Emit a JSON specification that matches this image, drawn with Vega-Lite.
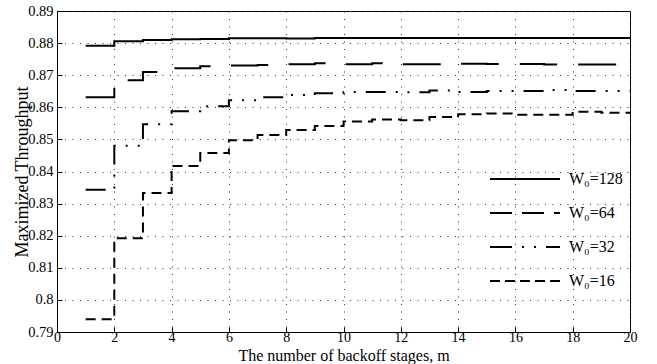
{
  "$schema": "https://vega.github.io/schema/vega-lite/v6.json",
  "autosize": "none",
  "width": 573,
  "height": 321,
  "padding": {"left": 57, "top": 11, "right": 27, "bottom": 32},
  "background": "white",
  "config": {
    "font": "Liberation Serif",
    "view": {"stroke": "black", "strokeWidth": 1},
    "axis": {
      "domainColor": "black",
      "tickColor": "black",
      "labelColor": "black",
      "titleColor": "black",
      "labelFont": "Liberation Serif",
      "titleFont": "Liberation Serif",
      "labelFontSize": 14.5,
      "titleFontSize": 17,
      "titleFontWeight": "normal",
      "gridColor": "#333",
      "gridDash": [1, 6.5],
      "gridWidth": 1,
      "gridOpacity": 1,
      "tickSize": -5
    }
  },
  "data": {
    "values": [
      {"m": 1, "W": "W₀=128", "T": 0.8792}, {"m": 2, "W": "W₀=128", "T": 0.8806}, {"m": 3, "W": "W₀=128", "T": 0.881}, {"m": 4, "W": "W₀=128", "T": 0.8812}, {"m": 5, "W": "W₀=128", "T": 0.8813}, {"m": 6, "W": "W₀=128", "T": 0.8815}, {"m": 7, "W": "W₀=128", "T": 0.8815}, {"m": 8, "W": "W₀=128", "T": 0.8814}, {"m": 9, "W": "W₀=128", "T": 0.8816}, {"m": 10, "W": "W₀=128", "T": 0.8816}, {"m": 11, "W": "W₀=128", "T": 0.8816}, {"m": 12, "W": "W₀=128", "T": 0.8816}, {"m": 13, "W": "W₀=128", "T": 0.8816}, {"m": 14, "W": "W₀=128", "T": 0.8816}, {"m": 15, "W": "W₀=128", "T": 0.8816}, {"m": 16, "W": "W₀=128", "T": 0.8816}, {"m": 17, "W": "W₀=128", "T": 0.8816}, {"m": 18, "W": "W₀=128", "T": 0.8816}, {"m": 19, "W": "W₀=128", "T": 0.8816}, {"m": 20, "W": "W₀=128", "T": 0.8816},
      {"m": 1, "W": "W₀=64", "T": 0.8631}, {"m": 2, "W": "W₀=64", "T": 0.8684}, {"m": 3, "W": "W₀=64", "T": 0.871}, {"m": 4, "W": "W₀=64", "T": 0.8722}, {"m": 5, "W": "W₀=64", "T": 0.8728}, {"m": 6, "W": "W₀=64", "T": 0.873}, {"m": 7, "W": "W₀=64", "T": 0.8732}, {"m": 8, "W": "W₀=64", "T": 0.8734}, {"m": 9, "W": "W₀=64", "T": 0.8737}, {"m": 10, "W": "W₀=64", "T": 0.8734}, {"m": 11, "W": "W₀=64", "T": 0.8737}, {"m": 12, "W": "W₀=64", "T": 0.8734}, {"m": 13, "W": "W₀=64", "T": 0.8734}, {"m": 14, "W": "W₀=64", "T": 0.8736}, {"m": 15, "W": "W₀=64", "T": 0.8735}, {"m": 16, "W": "W₀=64", "T": 0.8735}, {"m": 17, "W": "W₀=64", "T": 0.8733}, {"m": 18, "W": "W₀=64", "T": 0.8733}, {"m": 19, "W": "W₀=64", "T": 0.8733}, {"m": 20, "W": "W₀=64", "T": 0.8733},
      {"m": 1, "W": "W₀=32", "T": 0.8343}, {"m": 2, "W": "W₀=32", "T": 0.848}, {"m": 3, "W": "W₀=32", "T": 0.8547}, {"m": 4, "W": "W₀=32", "T": 0.8588}, {"m": 5, "W": "W₀=32", "T": 0.8603}, {"m": 6, "W": "W₀=32", "T": 0.8622}, {"m": 7, "W": "W₀=32", "T": 0.8631}, {"m": 8, "W": "W₀=32", "T": 0.8638}, {"m": 9, "W": "W₀=32", "T": 0.8644}, {"m": 10, "W": "W₀=32", "T": 0.8648}, {"m": 11, "W": "W₀=32", "T": 0.8648}, {"m": 12, "W": "W₀=32", "T": 0.8647}, {"m": 13, "W": "W₀=32", "T": 0.8652}, {"m": 14, "W": "W₀=32", "T": 0.8648}, {"m": 15, "W": "W₀=32", "T": 0.8651}, {"m": 16, "W": "W₀=32", "T": 0.8651}, {"m": 17, "W": "W₀=32", "T": 0.8654}, {"m": 18, "W": "W₀=32", "T": 0.8651}, {"m": 19, "W": "W₀=32", "T": 0.8651}, {"m": 20, "W": "W₀=32", "T": 0.8651},
      {"m": 1, "W": "W₀=16", "T": 0.794}, {"m": 2, "W": "W₀=16", "T": 0.8192}, {"m": 3, "W": "W₀=16", "T": 0.8333}, {"m": 4, "W": "W₀=16", "T": 0.8417}, {"m": 5, "W": "W₀=16", "T": 0.8458}, {"m": 6, "W": "W₀=16", "T": 0.8497}, {"m": 7, "W": "W₀=16", "T": 0.8514}, {"m": 8, "W": "W₀=16", "T": 0.8529}, {"m": 9, "W": "W₀=16", "T": 0.8542}, {"m": 10, "W": "W₀=16", "T": 0.8556}, {"m": 11, "W": "W₀=16", "T": 0.8562}, {"m": 12, "W": "W₀=16", "T": 0.856}, {"m": 13, "W": "W₀=16", "T": 0.857}, {"m": 14, "W": "W₀=16", "T": 0.8578}, {"m": 15, "W": "W₀=16", "T": 0.8581}, {"m": 16, "W": "W₀=16", "T": 0.8577}, {"m": 17, "W": "W₀=16", "T": 0.8577}, {"m": 18, "W": "W₀=16", "T": 0.8586}, {"m": 19, "W": "W₀=16", "T": 0.8583}, {"m": 20, "W": "W₀=16", "T": 0.8583}
    ]
  },
  "encoding": {
    "x": {
      "field": "m", "type": "quantitative",
      "scale": {"domain": [0, 20], "nice": false},
      "axis": {
        "values": [0, 2, 4, 6, 8, 10, 12, 14, 16, 18, 20],
        "title": "The number of backoff stages, m",
        "labelFontSize": 14,
        "labelPadding": 3.5,
        "titleFontSize": 16,
        "titleY": 28,
        "titleBaseline": "alphabetic",
        "labelFlush": false
      }
    },
    "y": {
      "field": "T", "type": "quantitative",
      "scale": {"domain": [0.79, 0.89], "nice": false, "zero": false},
      "axis": {
        "values": [0.79, 0.8, 0.81, 0.82, 0.83, 0.84, 0.85, 0.86, 0.87, 0.88, 0.89],
        "labelExpr": "format(datum.value, '.2~f')",
        "title": "Maximized Throughput",
        "titleFontSize": 18,
        "labelPadding": 9,
        "titlePadding": -4,
        "labelFlush": false
      }
    }
  },
  "layer": [
    {
      "mark": {"type": "line", "interpolate": "step-after", "strokeWidth": 2, "color": "black", "clip": true},
      "encoding": {
        "strokeDash": {
          "field": "W", "type": "nominal",
          "scale": {
            "domain": ["W₀=128", "W₀=64", "W₀=32", "W₀=16"],
            "range": [[1, 0], [38, 21], [20, 10, 2, 10, 2, 10], [10, 6]]
          },
          "legend": null
        }
      }
    },
    {
      "mark": {"type": "line", "interpolate": "step-after", "strokeWidth": 2, "color": "black", "strokeOpacity": 0, "clip": true},
      "encoding": {
        "strokeDash": {
          "field": "W", "type": "nominal",
          "scale": {
            "domain": ["W₀=128", "W₀=64", "W₀=32", "W₀=16"],
            "range": [[1, 0], [22, 10], [22, 10, 2, 10, 2, 10], [10, 5]]
          },
          "legend": {
            "title": null,
            "orient": "none",
            "legendX": 432,
            "legendY": 160,
            "symbolType": "stroke",
            "symbolSize": 4900,
            "symbolStrokeWidth": 2,
            "symbolStrokeColor": "black",
            "symbolOpacity": 1,
            "clipHeight": 16,
            "rowPadding": 18,
            "labelFontSize": 16,
            "labelFont": "Liberation Serif",
            "labelColor": "black",
            "labelOffset": 8,
            "encode": {"symbols": {"update": {"strokeOpacity": {"value": 1}, "opacity": {"value": 1}}}}
          }
        }
      }
    }
  ],
  "resolve": {"scale": {"strokeDash": "independent"}}
}
